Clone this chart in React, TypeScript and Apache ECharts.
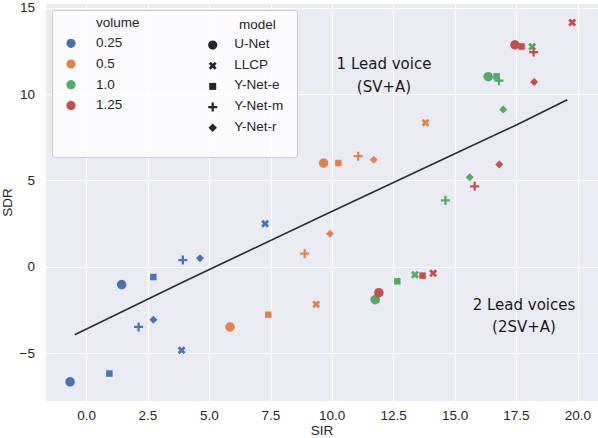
import React, { useEffect, useRef } from "react";
import * as echarts from "echarts";

// ---- data ----
const volumes = ["0.25", "0.5", "1.0", "1.25"];
const models = ["U-Net", "LLCP", "Y-Net-e", "Y-Net-m", "Y-Net-r"];
const volumeColors = ["#4C72B0", "#DD8452", "#55A868", "#C44E52"];

// model order: U-Net, LLCP, Y-Net-e, Y-Net-m, Y-Net-r
// 1 lead voice (SV+A)
const sir1v025 = [1.43, 7.27, 2.72, 3.92, 4.62];
const sdr1v025 = [-1.02, 2.51, -0.58, 0.4, 0.5];
const sir1v05 = [9.65, 13.8, 10.25, 11.06, 11.69];
const sdr1v05 = [6.02, 8.36, 6.02, 6.42, 6.21];
const sir1v10 = [16.35, 18.14, 16.69, 16.79, 16.96];
const sdr1v10 = [11.02, 12.76, 11.04, 10.79, 9.12];
const sir1v125 = [17.44, 19.77, 17.71, 18.2, 18.22];
const sdr1v125 = [12.87, 14.16, 12.77, 12.45, 10.71];
// 2 lead voices (2SV+A)
const sir2v025 = [-0.67, 3.87, 0.93, 2.12, 2.72];
const sdr2v025 = [-6.65, -4.82, -6.17, -3.47, -3.06];
const sir2v05 = [5.84, 9.35, 7.4, 8.88, 9.91];
const sdr2v05 = [-3.47, -2.16, -2.76, 0.77, 1.93];
const sir2v10 = [11.75, 13.37, 12.65, 14.61, 15.6];
const sdr2v10 = [-1.89, -0.45, -0.83, 3.86, 5.19];
const sir2v125 = [11.9, 14.11, 13.68, 15.8, 16.8];
const sdr2v125 = [-1.49, -0.36, -0.5, 4.67, 5.94];

// separating line
const lineSir = [-0.48, 3.93, 9.42, 14.88, 17.52, 19.57];
const lineSdr = [-3.92, -0.87, 2.84, 6.49, 8.24, 9.69];

const xTicks = [0, 2.5, 5, 7.5, 10, 12.5, 15, 17.5, 20];
const yTicks = [-5, 0, 5, 10, 15];

// ---- build ----
const sir1 = [sir1v025, sir1v05, sir1v10, sir1v125];
const sdr1 = [sdr1v025, sdr1v05, sdr1v10, sdr1v125];
const sir2 = [sir2v025, sir2v05, sir2v10, sir2v125];
const sdr2 = [sdr2v025, sdr2v05, sdr2v10, sdr2v125];

const PLUS = "path://M-1,-4H1V-1H4V1H1V4H-1V1H-4V-1H-1Z";
const XMARK = "path://M2,-4L4,-2L2,0L4,2L2,4L0,2L-2,4L-4,2L-2,0L-4,-2L-2,-4L0,-2Z";
const modelSymbols = ["circle", XMARK, "rect", PLUS, "diamond"];
const modelSizes = [9.5, 8, 6.5, 9, 8];

const FONT = "'Liberation Sans', Arial, sans-serif";
const TXT = "#262626";

function plusPts(cx: number, cy: number, s: number) {
  const k = s / 8;
  const p = [[-1, -4], [1, -4], [1, -1], [4, -1], [4, 1], [1, 1], [1, 4], [-1, 4], [-1, 1], [-4, 1], [-4, -1], [-1, -1]];
  return p.map(([a, b]) => [cx + a * k, cy + b * k]);
}
function xPts(cx: number, cy: number, s: number) {
  const k = s / 8;
  const p = [[2, -4], [4, -2], [2, 0], [4, 2], [2, 4], [0, 2], [-2, 4], [-4, 2], [-2, 0], [-4, -2], [-2, -4], [0, -2]];
  return p.map(([a, b]) => [cx + a * k, cy + b * k]);
}
function diamondPts(cx: number, cy: number, s: number) {
  const h = s / 2;
  return [[cx, cy - h], [cx + h, cy], [cx, cy + h], [cx - h, cy]];
}

function legendMarker(i: number, cx: number, cy: number, fill: string): any {
  const style = { fill };
  if (i === 0) return { type: "circle", shape: { cx, cy, r: 4.6 }, style };
  if (i === 1) return { type: "polygon", shape: { points: xPts(cx, cy, 8) }, style };
  if (i === 2) return { type: "rect", shape: { x: cx - 3.5, y: cy - 3.5, width: 7, height: 7 }, style };
  if (i === 3) return { type: "polygon", shape: { points: plusPts(cx, cy, 9) }, style };
  return { type: "polygon", shape: { points: diamondPts(cx, cy, 8.5) }, style };
}

export default function App() {
  const ref = useRef<HTMLDivElement>(null);
  useEffect(() => {
    if (!ref.current) return;
    const chart = echarts.init(ref.current, undefined, { renderer: "svg" });

    const series: any[] = [
      {
        type: "line",
        data: lineSir.map((x, i) => [x, lineSdr[i]]),
        symbol: "none",
        lineStyle: { color: "#2e2e2e", width: 1.7 },
        silent: true,
        z: 1,
      },
    ];
    volumes.forEach((vol, v) => {
      models.forEach((m, mi) => {
        series.push({
          type: "scatter",
          name: vol + " " + m,
          data: [
            [sir1[v][mi], sdr1[v][mi]],
            [sir2[v][mi], sdr2[v][mi]],
          ],
          symbol: modelSymbols[mi],
          symbolSize: modelSizes[mi],
          itemStyle: { color: volumeColors[v], opacity: 1 },
          silent: true,
          z: 2,
        });
      });
    });

    const graphics: any[] = [
      {
        type: "rect",
        shape: { x: 52.5, y: 10.5, width: 245, height: 147, r: 3 },
        style: { fill: "rgba(255,255,255,0.8)", stroke: "#cccccc", lineWidth: 1 },
        z: 10,
      },
      {
        type: "text",
        x: 96,
        y: 22.3,
        style: { text: "volume", fill: TXT, font: `13.5px ${FONT}`, verticalAlign: "middle" },
        z: 11,
      },
      {
        type: "text",
        x: 239,
        y: 24,
        style: { text: "model", fill: TXT, font: `13.5px ${FONT}`, verticalAlign: "middle" },
        z: 11,
      },
    ];
    volumes.forEach((vol, i) => {
      const cy = 43.3 + 20.7 * i;
      graphics.push({ type: "circle", shape: { cx: 71, cy, r: 4.6 }, style: { fill: volumeColors[i] }, z: 11 });
      graphics.push({
        type: "text",
        x: 96,
        y: cy - 0.6,
        style: { text: vol, fill: TXT, font: `13.5px ${FONT}`, verticalAlign: "middle" },
        z: 11,
      });
    });
    models.forEach((m, i) => {
      const cy = 45 + 20.7 * i;
      graphics.push({ ...legendMarker(i, 212.7, cy, "#262626"), z: 11 });
      graphics.push({
        type: "text",
        x: 234.3,
        y: cy - 1.5,
        style: { text: m, fill: TXT, font: `13.5px ${FONT}`, verticalAlign: "middle" },
        z: 11,
      });
    });
    const annoFont = "15px 'DejaVu Sans', sans-serif";
    const anno = [
      ["1 Lead voice", 384, 64.3],
      ["(SV+A)", 384, 86.7],
      ["2 Lead voices", 524, 305],
      ["(2SV+A)", 524, 326.7],
    ];
    anno.forEach(([t, x, y]) => {
      graphics.push({
        type: "text",
        x,
        y,
        style: { text: t, fill: "#1a1a1a", font: annoFont, align: "center", verticalAlign: "middle" },
        z: 9,
      });
    });

    chart.setOption({
      animation: false,
      backgroundColor: "#ffffff",
      grid: {
        left: 46,
        right: 0,
        top: 4,
        bottom: 37,
        show: true,
        backgroundColor: "#EAEAF2",
        borderWidth: 0,
        outerBoundsMode: "none",
        containLabel: false,
      },
      xAxis: {
        type: "value",
        min: -1.65,
        max: 20.82,
        axisLine: { show: false },
        axisTick: { show: false, customValues: xTicks },
        axisLabel: {
          customValues: xTicks,
          formatter: (v: number) => v.toFixed(1),
          color: TXT,
          fontSize: 13.5,
          fontFamily: FONT,
          margin: 7,
        },
        splitLine: { show: true, lineStyle: { color: "#ffffff", width: 1.2 } },
        name: "SIR",
        nameLocation: "middle",
        nameGap: 22,
        nameMoveOverlap: false,
        nameTextStyle: { color: TXT, fontSize: 13.5, fontFamily: FONT },
      },
      yAxis: {
        type: "value",
        min: -7.76,
        max: 15.23,
        axisLine: { show: false },
        axisTick: { show: false, customValues: yTicks },
        axisLabel: {
          customValues: yTicks,
          formatter: (v: number) => (v < 0 ? "\u2212" + Math.abs(v) : String(v)),
          color: TXT,
          fontSize: 13.5,
          fontFamily: FONT,
          margin: 11,
        },
        splitLine: { show: true, lineStyle: { color: "#ffffff", width: 1.2 } },
        name: "SDR",
        nameLocation: "middle",
        nameGap: 32,
        nameMoveOverlap: false,
        nameTextStyle: { color: TXT, fontSize: 13.5, fontFamily: FONT },
      },
      series,
      graphic: { elements: graphics },
    });
    return () => chart.dispose();
  }, []);
  return (
    <div
      ref={ref}
      style={{ position: "absolute", left: 0, top: 0, width: 598, height: 438 }}
    />
  );
}
